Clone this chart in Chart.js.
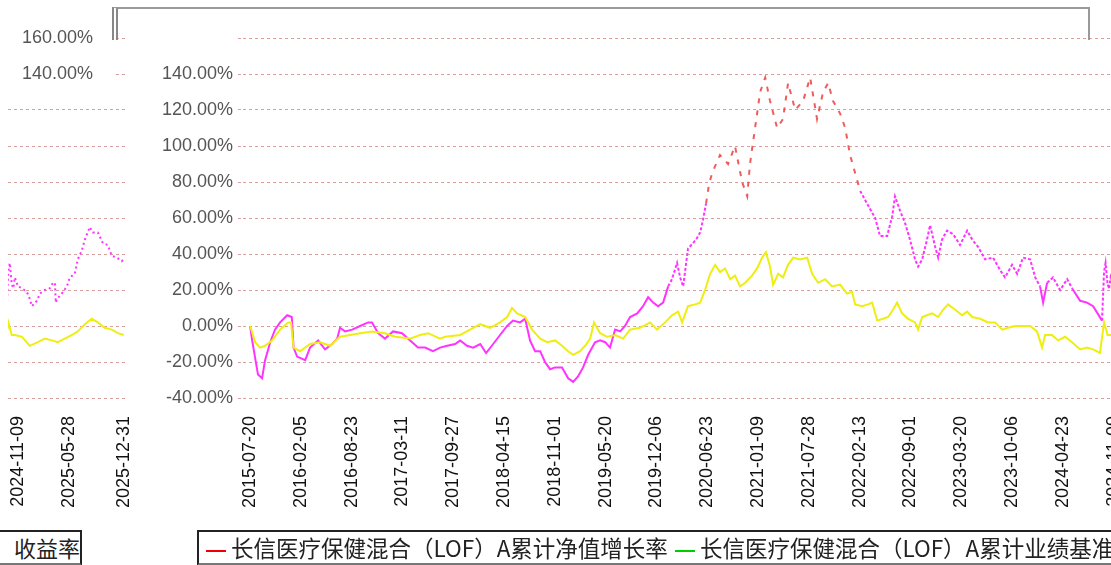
<!DOCTYPE html>
<html>
<head>
<meta charset="utf-8">
<script src="https://cdn.jsdelivr.net/npm/chart.js@4.4.1/dist/chart.umd.min.js"></script>
<style>
    html, body { margin: 0; padding: 0; width: 1111px; height: 565px; overflow: hidden; background: #fff; }
    .box { position: absolute; }
    #left-wrap { left: 0; top: 0; width: 135px; height: 530px; }
    #main-wrap { left: 133px; top: 0; width: 1000px; height: 530px; }
    #title-box { left: 112px; top: 7px; width: 970px; height: 31px; border: 2px solid #999; border-left: 6px double #888; border-bottom: none; }
    #axis-title { left: -4px; top: 530px; width: 82px; height: 31px; border: 2px solid #222; border-bottom: 3px solid #777;
        font: 22px "Noto Sans CJK SC"; line-height: 31px; text-align: right; color: #222; }
    #legend { left: 197px; top: 530px; width: 930px; height: 31px; border: 2px solid #222; border-bottom: 3px solid #777;
        font: 22.5px "Noto Sans CJK SC"; line-height: 31px; color: #222; white-space: nowrap; }
    .swatch { display: inline-block; width: 20px; height: 2px; vertical-align: middle; margin: 0 5px 0 7px; }
</style>
</head>
<body>
<div class="box" id="left-wrap"><canvas id="leftChart"></canvas></div>
<div class="box" id="main-wrap"><canvas id="myChart"></canvas></div>
<div class="box" id="title-box"></div>
<div class="box" id="axis-title">收益率</div>
<div class="box" id="legend"><span class="swatch" style="background:#e00"></span>长信医疗保健混合（LOF）A累计净值增长率<span class="swatch" style="background:#0c0"></span>长信医疗保健混合（LOF）A累计业绩基准</div>
<script>
const tickLabels = ['2015-07-20', '2016-02-05', '2016-08-23', '2017-03-11', '2017-09-27', '2018-04-15',
    '2018-11-01', '2019-05-20', '2019-12-06', '2020-06-23', '2021-01-09', '2021-07-28', '2022-02-13',
    '2022-09-01', '2023-03-20', '2023-10-06', '2024-04-23', '2024-11-09', '2025-05-28', '2025-12-31'];

const fundDates = ['2015-07-20', '2015-07-28', '2015-08-20', '2015-09-05', '2015-09-17', '2015-10-07', '2015-10-26',
    '2015-11-15', '2015-12-13', '2015-12-31', '2016-01-07', '2016-01-21', '2016-02-22', '2016-03-12', '2016-04-13',
    '2016-05-10', '2016-06-07', '2016-06-27', '2016-07-08', '2016-07-28', '2016-08-25', '2016-09-25', '2016-10-27',
    '2016-11-11', '2016-12-05', '2017-01-01', '2017-02-02', '2017-03-09', '2017-04-10', '2017-05-11', '2017-06-08',
    '2017-07-09', '2017-08-06', '2017-09-03', '2017-10-04', '2017-10-24', '2017-11-20', '2017-12-14', '2018-01-11',
    '2018-02-03', '2018-03-03', '2018-03-30', '2018-04-27', '2018-05-20', '2018-06-17', '2018-07-07', '2018-07-26',
    '2018-08-15', '2018-09-04', '2018-09-23', '2018-10-13', '2018-11-02', '2018-11-29', '2018-12-23', '2019-01-12',
    '2019-01-31', '2019-02-20', '2019-03-12', '2019-04-08', '2019-04-28', '2019-05-18', '2019-06-06', '2019-06-26',
    '2019-07-16', '2019-08-04', '2019-08-24', '2019-09-21', '2019-10-14', '2019-11-03', '2019-11-23', '2019-12-12',
    '2020-01-01', '2020-01-21', '2020-02-05', '2020-02-25', '2020-03-08', '2020-03-20', '2020-04-08', '2020-04-28',
    '2020-05-14', '2020-05-26', '2020-06-06', '2020-06-18', '2020-06-30', '2020-07-12', '2020-08-12', '2020-09-13',
    '2020-10-10', '2020-11-07', '2020-11-27', '2020-12-08', '2020-12-28', '2021-01-17', '2021-02-06', '2021-02-25',
    '2021-03-25', '2021-04-17', '2021-05-07', '2021-06-04', '2021-07-05', '2021-08-02', '2021-08-29', '2021-09-22',
    '2021-10-12', '2021-10-31', '2021-11-28', '2021-12-18', '2022-01-06', '2022-01-26', '2022-02-15', '2022-03-14',
    '2022-04-15', '2022-05-04', '2022-06-01', '2022-06-21', '2022-07-02', '2022-07-22', '2022-08-11', '2022-08-30',
    '2022-09-19', '2022-10-01', '2022-10-17', '2022-11-05', '2022-11-17', '2022-12-07', '2022-12-19', '2023-01-03',
    '2023-01-23', '2023-02-16', '2023-03-15', '2023-04-12', '2023-05-02', '2023-05-25', '2023-06-22', '2023-07-23',
    '2023-08-20', '2023-09-08', '2023-10-06', '2023-10-26', '2023-11-18', '2023-12-16', '2024-01-05', '2024-01-24',
    '2024-02-05', '2024-02-21', '2024-03-15', '2024-04-12', '2024-05-10', '2024-05-29', '2024-06-30', '2024-07-27',
    '2024-08-20', '2024-09-24', '2024-10-02', '2024-10-08', '2024-10-16', '2024-10-22', '2024-10-28', '2024-11-09',
    '2024-11-25', '2024-12-14', '2024-12-26', '2025-01-03', '2025-01-23', '2025-02-04', '2025-02-23', '2025-03-15',
    '2025-03-27', '2025-04-04', '2025-04-07', '2025-04-12', '2025-05-01', '2025-05-21', '2025-06-02', '2025-06-21',
    '2025-07-03', '2025-07-19', '2025-07-31', '2025-08-19', '2025-08-31', '2025-09-20', '2025-10-10', '2025-10-29',
    '2025-11-14', '2025-12-04', '2025-12-23', '2025-12-31'];
const fundValues = [0, -8, -27, -29, -19, -9, -2,
    2, 6, 5, -12, -17, -19, -12, -8,
    -13, -10, -7, -1, -3, -2, 0, 2,
    2, -4, -7, -3, -4, -8, -12, -12,
    -14, -12, -11, -10, -8, -11, -12, -10,
    -15, -10, -5, 0, 3, 2, 4, -8,
    -14, -14, -20, -24, -23, -23, -29, -31,
    -28, -23, -16, -9, -8, -9, -12, -2,
    -3, 0, 5, 7, 11, 16, 13, 11,
    13, 22, 26, 35, 27, 22, 43, 46,
    49, 52, 59, 68, 79, 85, 95, 90,
    100, 80, 72, 90, 110, 130, 138, 125,
    110, 115, 135, 120, 125, 138, 115, 130,
    135, 125, 118, 110, 95, 85, 75, 68,
    60, 50, 50, 61, 72, 64, 57, 48,
    37, 33, 37, 48, 56, 44, 38, 48,
    53, 51, 45, 53, 48, 44, 37, 38,
    31, 27, 34, 29, 38, 37, 27, 22,
    13, 24, 27, 20, 26, 21, 14, 13,
    11, 3, 30, 35, 23, 21, 27, 22,
    21, 19, 15, 11, 14, 18, 20, 21,
    24, 24, 13, 15, 18, 22, 27, 29,
    37, 42, 48, 55, 52, 52, 46, 45,
    39, 38, 36, 37];

const benchDates = ['2015-07-20', '2015-08-09', '2015-08-28', '2015-09-17', '2015-10-15', '2015-11-15', '2015-12-17',
    '2015-12-28', '2016-01-07', '2016-02-02', '2016-03-12', '2016-04-21', '2016-05-30', '2016-07-08', '2016-08-17',
    '2016-09-25', '2016-11-11', '2017-01-01', '2017-02-10', '2017-04-10', '2017-05-19', '2017-06-20', '2017-08-06',
    '2017-08-26', '2017-10-24', '2017-12-02', '2018-01-11', '2018-02-19', '2018-03-30', '2018-04-27', '2018-05-16',
    '2018-06-05', '2018-07-07', '2018-08-03', '2018-09-04', '2018-10-01', '2018-11-02', '2018-11-29', '2018-12-23',
    '2019-01-12', '2019-02-08', '2019-02-28', '2019-03-20', '2019-04-04', '2019-04-28', '2019-05-26', '2019-06-26',
    '2019-07-28', '2019-08-24', '2019-10-02', '2019-11-11', '2019-12-08', '2020-01-09', '2020-02-05', '2020-02-29',
    '2020-03-16', '2020-04-08', '2020-05-06', '2020-05-26', '2020-06-14', '2020-07-04', '2020-07-24', '2020-08-12',
    '2020-09-01', '2020-09-21', '2020-10-10', '2020-10-30', '2020-11-19', '2020-12-16', '2021-01-05', '2021-01-25',
    '2021-02-09', '2021-02-25', '2021-03-09', '2021-03-29', '2021-04-17', '2021-05-07', '2021-05-27', '2021-06-23',
    '2021-07-21', '2021-08-10', '2021-09-02', '2021-09-30', '2021-10-27', '2021-11-28', '2021-12-25', '2022-01-14',
    '2022-01-26', '2022-02-22', '2022-03-18', '2022-04-03', '2022-04-23', '2022-05-16', '2022-06-05', '2022-06-24',
    '2022-07-10', '2022-07-30', '2022-08-23', '2022-09-19', '2022-10-01', '2022-10-17', '2022-11-05', '2022-11-25',
    '2022-12-19', '2023-01-07', '2023-01-27', '2023-02-24', '2023-03-23', '2023-04-12', '2023-05-02', '2023-06-02',
    '2023-07-04', '2023-07-31', '2023-08-28', '2023-09-20', '2023-10-18', '2023-11-14', '2023-12-16', '2024-01-12',
    '2024-02-01', '2024-02-13', '2024-03-11', '2024-04-04', '2024-05-02', '2024-05-29', '2024-06-30', '2024-07-27',
    '2024-08-20', '2024-09-16', '2024-10-02', '2024-10-16', '2024-10-28', '2024-11-25', '2024-12-26', '2025-01-27',
    '2025-02-23', '2025-03-23', '2025-04-15', '2025-05-13', '2025-06-10', '2025-07-03', '2025-07-31', '2025-08-27',
    '2025-09-20', '2025-10-17', '2025-11-14', '2025-12-08', '2025-12-31'];
const benchValues = [0, -9, -12, -11, -8, -2, 2,
    2, -12, -14, -10, -9, -11, -6, -5,
    -4, -3, -4, -6, -7, -5, -4, -7,
    -6, -5, -2, 1, -1, 2, 5, 10,
    7, 5, -2, -7, -9, -8, -11, -14,
    -16, -14, -11, -7, 2, -4, -6, -5,
    -7, -2, -1, 2, -2, 2, 6, 8,
    2, 11, 12, 13, 20, 29, 34, 30,
    32, 26, 28, 22, 24, 28, 32, 38,
    41, 33, 23, 29, 27, 34, 38, 37,
    38, 29, 24, 26, 22, 23, 18, 19,
    12, 11, 12, 13, 3, 4, 5, 9,
    13, 7, 4, 2, -2, 5, 6, 7,
    5, 9, 12, 9, 6, 8, 5, 4,
    2, 2, -2, -1, 0, 0, 0, -3,
    -12, -5, -5, -8, -6, -9, -13, -12,
    -13, -15, 2, -5, -5, -6, -11, -9,
    -7, -8, -9, -7, -5, -3, 1, 4,
    2, -1, -2, -4, -5];

const yMin = -40;
const yMax = 160;
const yStep = 20;

function dayOf(dateStr) {
    return (Date.parse(dateStr) - Date.parse(tickLabels[0])) / 86400000;
}

const tickDays = tickLabels.map(dayOf);
const fundData = fundDates.map((d, i) => ({x: dayOf(d), y: fundValues[i]}));
const benchData = benchDates.map((d, i) => ({x: dayOf(d), y: benchValues[i]}));

const gridColor = 'rgba(214, 150, 150, 0.9)';
const fontFamily = '"Liberation Sans", Arial, sans-serif';

function pct(v) {
    return v.toFixed(2) + '%';
}

function xAxis(min, max) {
    return {
        type: 'linear',
        min: min,
        max: max,
        grid: {display: false, drawTicks: false},
        border: {display: false},
        afterBuildTicks: function(scale) {
            scale.ticks = tickDays.filter(v => v >= min && v <= max).map(v => ({value: v}));
        },
        afterFit: function(scale) {
            scale.height = 132;
            // labels may hang past the plot, the plot keeps its full width
            scale.paddingLeft = 0;
            scale.paddingRight = 0;
        },
        ticks: {
            autoSkip: false,
            minRotation: 90,
            maxRotation: 90,
            padding: 18,
            color: '#111',
            font: {family: fontFamily, size: 18},
            callback: function(value) {
                const i = tickDays.indexOf(value);
                return i >= 0 ? tickLabels[i] : '';
            }
        }
    };
}

function fundHigh(c) {
    return Math.max(c.p0.parsed.y, c.p1.parsed.y);
}

const fundSegment = {
    borderColor: c => fundHigh(c) > 75 ? 'rgba(236, 64, 64, 0.85)' : '#ff33ff',
    borderDash: c => fundHigh(c) > 75 ? [5, 7] : (fundHigh(c) > 25 ? [3, 2] : undefined)
};

const mainChart = new Chart(document.getElementById('myChart').getContext('2d'), {
    type: 'line',
    data: {
        datasets: [{
            label: '长信医疗保健混合（LOF）A累计业绩基准',
            data: benchData,
            borderColor: '#eeee10',
            borderWidth: 2,
            pointRadius: 0,
            tension: 0
        }, {
            label: '长信医疗保健混合（LOF）A累计净值增长率',
            data: fundData,
            borderColor: '#ff33ff',
            borderWidth: 2,
            pointRadius: 0,
            tension: 0,
            segment: fundSegment
        }]
    },
    options: {
        responsive: true,
        maintainAspectRatio: false,
        animation: false,
        layout: {padding: {top: 38, left: 0, right: 0, bottom: 0}},
        plugins: {legend: {display: false}, tooltip: {enabled: false}},
        scales: {
            x: xAxis(-28, 3476),
            y: {
                min: yMin,
                max: yMax,
                afterFit: function(scale) {
                    scale.width = 110;
                },
                border: {display: false, dash: [3, 3]},
                grid: {color: gridColor, tickLength: 5, tickBorderDash: [3, 2]},
                ticks: {
                    stepSize: yStep,
                    padding: 5,
                    color: '#555',
                    font: {family: fontFamily, size: 18},
                    callback: v => v === yMax ? '' : pct(v)
                }
            }
        }
    }
});

const leftChart = new Chart(document.getElementById('leftChart').getContext('2d'), {
    type: 'line',
    data: {
        datasets: [{
            label: '长信医疗保健混合（LOF）A累计业绩基准',
            data: benchData,
            borderColor: '#eeee10',
            borderWidth: 2,
            pointRadius: 0,
            tension: 0
        }, {
            label: '长信医疗保健混合（LOF）A累计净值增长率',
            data: fundData,
            borderColor: '#ff33ff',
            borderWidth: 2,
            borderDash: [2, 3],
            pointRadius: 0,
            tension: 0
        }]
    },
    options: {
        responsive: true,
        maintainAspectRatio: false,
        animation: false,
        layout: {padding: {top: 38, left: 8, right: 10, bottom: 0}},
        plugins: {legend: {display: false}, tooltip: {enabled: false}},
        scales: {
            x: xAxis(3361, 3822),
            y: {
                min: yMin,
                max: yMax,
                afterFit: function(scale) {
                    scale.width = 0;
                },
                border: {display: false, dash: [3, 3]},
                grid: {color: gridColor, drawTicks: false},
                ticks: {
                    stepSize: yStep,
                    mirror: true,
                    padding: 14,
                    showLabelBackdrop: c => c.tick && c.tick.value >= 140,
                    backdropColor: '#fff',
                    backdropPadding: {top: 2, bottom: 2, left: 14, right: 20},
                    color: '#555',
                    font: {family: fontFamily, size: 18},
                    callback: v => v >= 140 ? pct(v) : ''
                }
            }
        }
    }
});
</script>
</body>
</html>
